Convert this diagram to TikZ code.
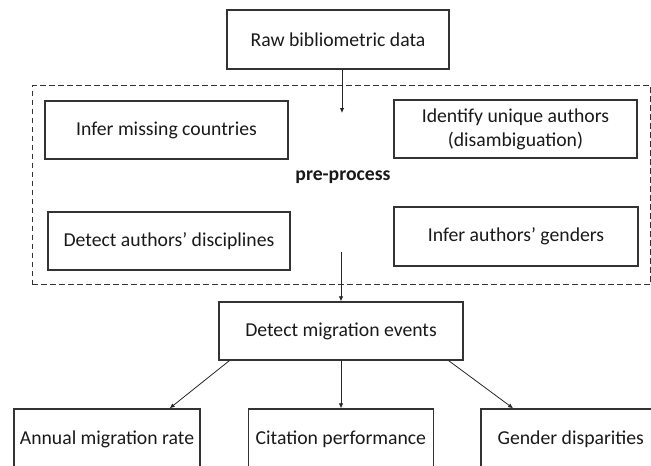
\documentclass[tikz,border=0pt]{standalone}
\usepackage{fontspec}
\setmainfont{Carlito}
\usetikzlibrary{arrows.meta,positioning,fit}

\begin{document}
\begin{tikzpicture}[
    x=1pt, y=-1pt,
    font=\fontsize{19.7}{24}\selectfont,
    box/.style={draw=black!80, line width=1.4pt, text=black!90, align=center, inner sep=0pt, minimum height=58pt},
    frame/.style={draw=black!80, line width=1.3pt, dash pattern=on 5.5pt off 3.5pt, inner xsep=12pt, inner ysep=13.5pt},
    arrow/.style={draw=black!85, line width=0.8pt, -{Latex[length=5pt,width=4.5pt]}}
]
\useasboundingbox (0,0) rectangle (651,466);
\clip (0,0) rectangle (651,466);

\node[box, minimum width=222pt, minimum height=59pt] (raw) at (338,39.5) {Raw bibliometric data};

% pre-processing steps
\node[box, minimum width=243pt] (cntry) at (166.5,130) {Infer missing countries};
\node[box, minimum width=243pt] (uniq) at (515.5,129) {Identify unique authors\\(disambiguation)};
\node[box, minimum width=242pt] (disc) at (169,241) {Detect authors' disciplines};
\node[box, minimum width=244pt, minimum height=59pt] (gend) at (516,236.5) {Infer authors' genders};
\node[frame, fit=(cntry)(uniq)(disc)(gend)] (prep) {};
\node[text=black!90, font=\fontsize{19.7}{24}\selectfont\bfseries] (prelbl) at (343,177) {pre-process};

\node[box, minimum width=244pt] (migr) at (341,331) {Detect migration events};

% analyses
\node[box, minimum width=186pt, minimum height=60pt] (annual) at (107,439) {Annual migration rate};
\node[box, minimum width=185pt, minimum height=60pt, right=47pt of annual] (citation) {Citation performance};
\node[box, minimum width=180pt, minimum height=60pt, right=46pt of citation] (gendis) {Gender disparities};

\coordinate (rawtip) at (342,113);
\coordinate (prepout) at (341,252);

\draw[arrow] (raw.south -| rawtip) -- (rawtip);
\draw[arrow] (prepout) -- (migr);
\draw[arrow] ([xshift=11pt]migr.south west) -- ([xshift=-31pt]annual.north east);
\draw[arrow] (migr.south) -- (migr.south |- citation.north);
\draw[arrow] ([xshift=-15pt]migr.south east) -- ([xshift=33pt]gendis.north west);
\end{tikzpicture}
\end{document}
